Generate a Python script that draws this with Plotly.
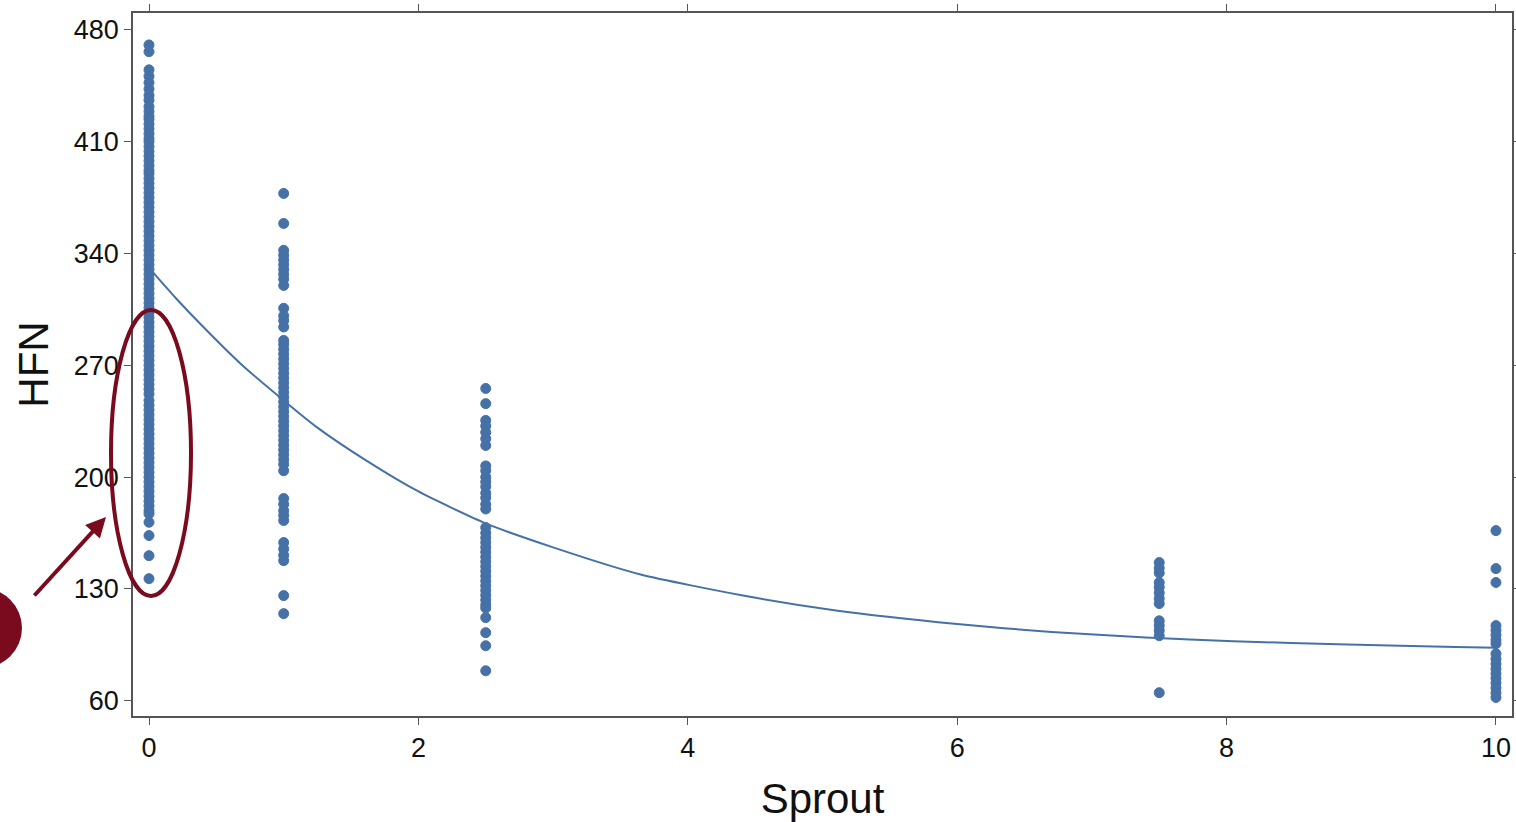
import plotly.graph_objects as go

# ---- data ----
sprout0 = [470.6, 466.4, 455, 451, 447, 443, 439, 436,
           432, 429, 426, 424, 421, 418, 415, 412, 410, 407, 404, 401, 398, 395, 392, 390,
           387, 384, 381, 378, 375, 372, 369, 366, 363, 360, 357, 354, 351, 348, 345, 342,
           339, 336, 333, 330, 327, 324, 321, 318, 315, 312, 309, 306, 303, 300, 297, 294,
           291, 288, 285, 282, 279, 276, 273, 270, 267, 264, 261, 258, 255, 252, 248, 245,
           242, 239, 236, 233, 230, 227, 224, 221, 218, 215, 212, 209, 206, 203, 200, 197,
           194, 191, 188, 185, 182, 179, 177, 171.7, 163.4, 150.8, 136.4]
sprout1 = [377.6, 358.8, 342, 339, 336, 333, 330, 327, 324, 320, 305.7, 301, 298, 294,
           285.6, 283, 280, 277, 274, 271, 268, 265, 262, 259, 256, 253, 250, 247, 244, 241,
           238, 235, 232, 229, 226, 223, 220, 217, 214, 211, 208, 204,
           186.6, 183, 179, 176, 172.8, 159, 155, 151, 147.7, 125.8, 114.5]
sprout25 = [255.5, 246, 235.5, 232, 228, 224, 219.8, 207, 204, 200, 197, 194, 190, 187, 183, 180,
            168.4, 165, 162, 159, 156, 153, 150, 147, 144, 141, 138, 135, 132, 129, 126, 123,
            120, 118, 112, 102.6, 94.4, 78.7]
sprout75 = [146.5, 143, 140, 134, 131, 127.5, 124, 120.8, 110, 107, 104, 100.7, 65]
sprout10 = [166.5, 142.7, 134, 107, 104, 101, 98, 95.7, 89.4, 86, 83, 80, 77, 74, 71, 68, 65, 62]

groups = [(0, sprout0), (1, sprout1), (2.5, sprout25), (7.5, sprout75), (10, sprout10)]

fit_x = [0, 0.2, 0.38, 0.68, 1.0, 1.25, 1.62, 2.0, 2.5, 3.0, 3.65, 4.4, 5.1, 6.0, 6.7, 7.4, 8.05, 8.9, 9.7, 10]
fit_y = [331, 312, 296, 271, 248, 231, 210, 191, 171, 156, 139, 126, 116.5, 108, 103, 99.6, 97.2, 95.2, 93.6, 93.2]

x_ticks = [0, 2, 4, 6, 8, 10]
y_ticks = [60, 130, 200, 270, 340, 410, 480]

BLUE = "#4571A7"
MAROON = "#7A0A1E"
FONT = "Liberation Sans, Arial"

xs, ys = [], []
for sx, vals in groups:
    xs += [sx] * len(vals)
    ys += vals

fig = go.Figure()
fig.add_trace(go.Scatter(x=xs, y=ys, mode="markers",
                         marker=dict(color=BLUE, size=10, line=dict(color=BLUE, width=1)),
                         showlegend=False))
fig.add_trace(go.Scatter(x=fit_x, y=fit_y, mode="lines",
                         line=dict(color=BLUE, width=2, shape="spline", smoothing=0.6),
                         showlegend=False))

axis_common = dict(showline=True, linecolor="#555555", linewidth=1.5, mirror="allticks",
                   ticks="outside", ticklen=7, tickwidth=1.2, tickcolor="#555555",
                   showgrid=False, zeroline=False, automargin=False,
                   tickfont=dict(family=FONT, size=27, color="#111111"))

fig.update_xaxes(range=[-0.1188, 10.119], tickvals=x_ticks,
                 title=dict(text="Sprout", font=dict(family=FONT, size=42, color="#111111"),
                            standoff=22),
                 **axis_common)
fig.update_yaxes(range=[50.4, 490.6], tickvals=y_ticks,
                 title=dict(text="HFN", font=dict(family=FONT, size=42, color="#111111"),
                            standoff=12),
                 **axis_common)

W, H = 1516, 822
L, R, T, B = 133, 4, 13, 106
pw, ph = W - L - R, H - T - B

def px(x):
    return (x - L) / pw

def py(y):
    return (H - B - y) / ph

fig.add_shape(type="circle", xref="paper", yref="paper",
              x0=px(111), x1=px(191), y0=py(596), y1=py(310),
              line=dict(color=MAROON, width=4), layer="above")
fig.add_shape(type="circle", xref="paper", yref="paper",
              x0=px(-58), x1=px(22), y0=py(668), y1=py(588),
              line=dict(color=MAROON, width=0), fillcolor=MAROON, layer="above")
fig.add_annotation(xref="paper", yref="paper", x=px(106), y=py(517), text="",
                   showarrow=True, ax=33 - 106, ay=597 - 517,
                   arrowcolor=MAROON, arrowwidth=4, arrowhead=2, arrowsize=1, standoff=0)

fig.update_layout(width=W, height=H, margin=dict(l=L, r=R, t=T, b=B, autoexpand=False),
                  plot_bgcolor="white", paper_bgcolor="white")

fig.write_html("out.html")
